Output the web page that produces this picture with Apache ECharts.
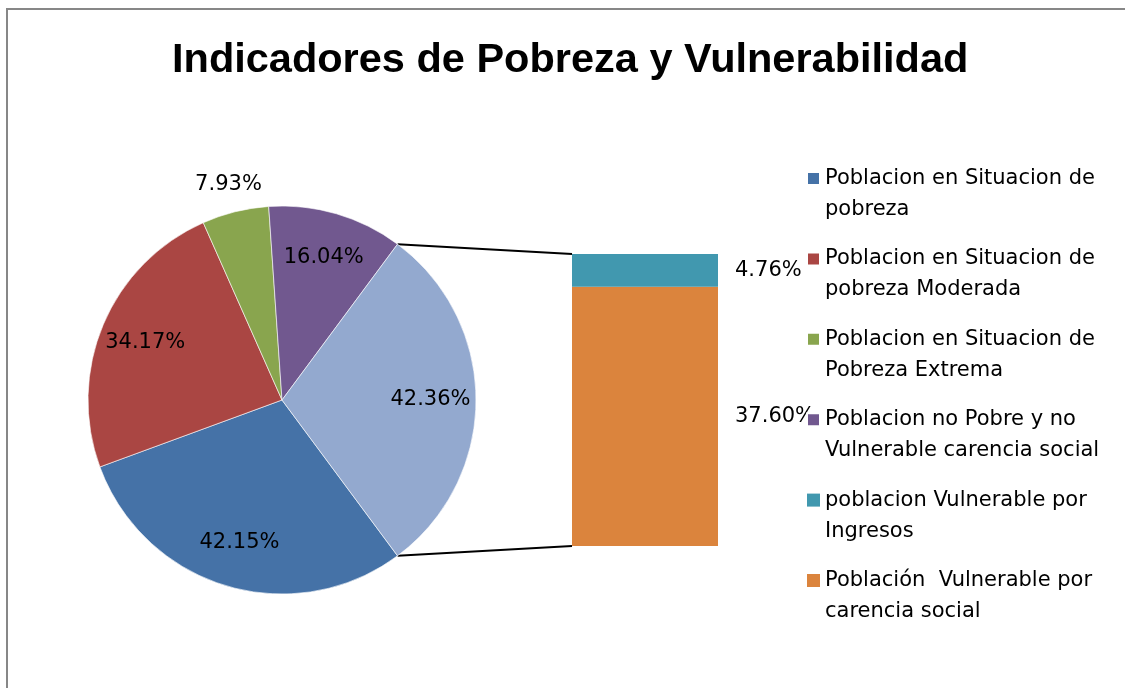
<!DOCTYPE html>
<html>
<head>
<meta charset="utf-8">
<script src="https://cdn.jsdelivr.net/npm/echarts@6/dist/echarts.min.js"></script>
<style>
  html, body { margin: 0; padding: 0; background: #fff; }
  #main { width: 1125px; height: 688px; }
</style>
</head>
<body>
<div id="main"></div>
<script>
// datos del grafico
var pieNames = ['Poblacion en Situacion de pobreza', 'Poblacion en Situacion de pobreza Moderada',
    'Poblacion en Situacion de Pobreza Extrema', 'Poblacion no Pobre y no Vulnerable carencia social'];
var pieValues = [42.15, 34.17, 7.93, 16.04];
var pieColors = ['#4572A7', '#AA4643', '#89A54E', '#71588F'];
var otherName = 'Otro';
var otherColor = '#93A9CF';

var barNames = ['poblacion Vulnerable por Ingresos', 'Población  Vulnerable por carencia social'];
var barValues = [4.76, 37.60];
var barColors = ['#4198AF', '#DB843D'];

var outsideLabel = 'Poblacion en Situacion de Pobreza Extrema';

// geometria
var cx = 282, cy = 400, r = 194;
var gridLeft = 572, gridTop = 254, gridW = 146, gridH = 292;
var font = 'DejaVu Sans';

var otherValue = barValues.reduce(function (a, b) { return a + b; }, 0);
otherValue = Math.round(otherValue * 100) / 100;
var total = pieValues.reduce(function (a, b) { return a + b; }, 0) + otherValue;
var otherAngle = otherValue / total * 360;
var startAngle = -otherAngle / 2;

var fmt = function (p) { return p.value.toFixed(2) + '%'; };

var pieData = pieNames.map(function (n, i) {
    return { name: n, value: pieValues[i], itemStyle: { color: pieColors[i] } };
});
pieData.push({ name: otherName, value: otherValue, itemStyle: { color: otherColor } });

function labelData(showFn) {
    return pieData.map(function (d) {
        return { name: d.name, value: d.value, label: { show: showFn(d.name) } };
    });
}

var myChart = echarts.init(document.getElementById('main'));

var a = otherAngle / 2 * Math.PI / 180;
var p1 = [cx + r * Math.cos(a), cy - r * Math.sin(a)];
var p2 = [cx + r * Math.cos(a), cy + r * Math.sin(a)];

var labelPie = function (radius, showFn) {
    return {
        type: 'pie',
        silent: true,
        center: [cx, cy],
        radius: [0, radius],
        startAngle: startAngle,
        clockwise: true,
        itemStyle: { color: 'rgba(0,0,0,0)', borderWidth: 0 },
        emphasis: { disabled: true },
        label: { position: 'inside', color: '#000', fontFamily: font, fontSize: 21, formatter: fmt },
        labelLine: { show: false },
        data: labelData(showFn),
        z: 5
    };
};

var option = {
    animation: false,
    title: {
        text: 'Indicadores de Pobreza y Vulnerabilidad',
        left: 172,
        top: 40,
        padding: 0,
        textStyle: { fontFamily: 'Liberation Sans', fontWeight: 'bold', fontSize: 41.5, color: '#000' }
    },
    legend: {
        orient: 'vertical',
        left: 806,
        top: 132,
        padding: 0,
        itemWidth: 13,
        itemHeight: 13,
        itemGap: -12.6,
        icon: 'rect',
        selectedMode: false,
        data: pieNames.concat(barNames.slice()),
        // linea vacia arriba para que el icono quede en la primera linea
        formatter: function (name) { return '\u00a0\n' + name; },
        textStyle: {
            fontFamily: font, fontSize: 21, color: '#000', lineHeight: 31,
            width: 285, overflow: 'break'
        }
    },
    grid: { left: gridLeft, top: gridTop, width: gridW, height: gridH },
    xAxis: { type: 'category', data: [otherName], show: false },
    yAxis: { type: 'value', min: 0, max: otherValue, show: false },
    series: [
        {
            type: 'pie',
            center: [cx, cy],
            radius: [0, r],
            startAngle: startAngle,
            clockwise: true,
            itemStyle: { borderColor: '#fff', borderWidth: 0.6 },
            label: { show: false },
            labelLine: { show: false },
            data: pieData
        },
        labelPie(r * 1.5, function (n) { return n !== outsideLabel; }),
        labelPie(r * 2.26, function (n) { return n === outsideLabel; })
    ].concat(barNames.map(function (n, i) { return i; }).reverse().map(function (i) {
        return {
            name: barNames[i],
            type: 'bar',
            stack: 'otro',
            barWidth: '100%',
            itemStyle: { color: barColors[i] },
            label: {
                show: true, position: 'right', distance: 17,
                color: '#000', fontFamily: font, fontSize: 21, formatter: fmt
            },
            data: [barValues[i]]
        };
    })),
    graphic: [
        {
            type: 'rect', silent: true,
            shape: { x: 7, y: 9, width: 1200, height: 800 },
            style: { fill: null, stroke: '#878787', lineWidth: 2 }
        },
        {
            type: 'line', silent: true,
            shape: { x1: p1[0], y1: p1[1], x2: gridLeft, y2: gridTop },
            style: { stroke: '#000', lineWidth: 2 }
        },
        {
            type: 'line', silent: true,
            shape: { x1: p2[0], y1: p2[1], x2: gridLeft, y2: gridTop + gridH },
            style: { stroke: '#000', lineWidth: 2 }
        }
    ]
};

myChart.setOption(option);
</script>
</body>
</html>
